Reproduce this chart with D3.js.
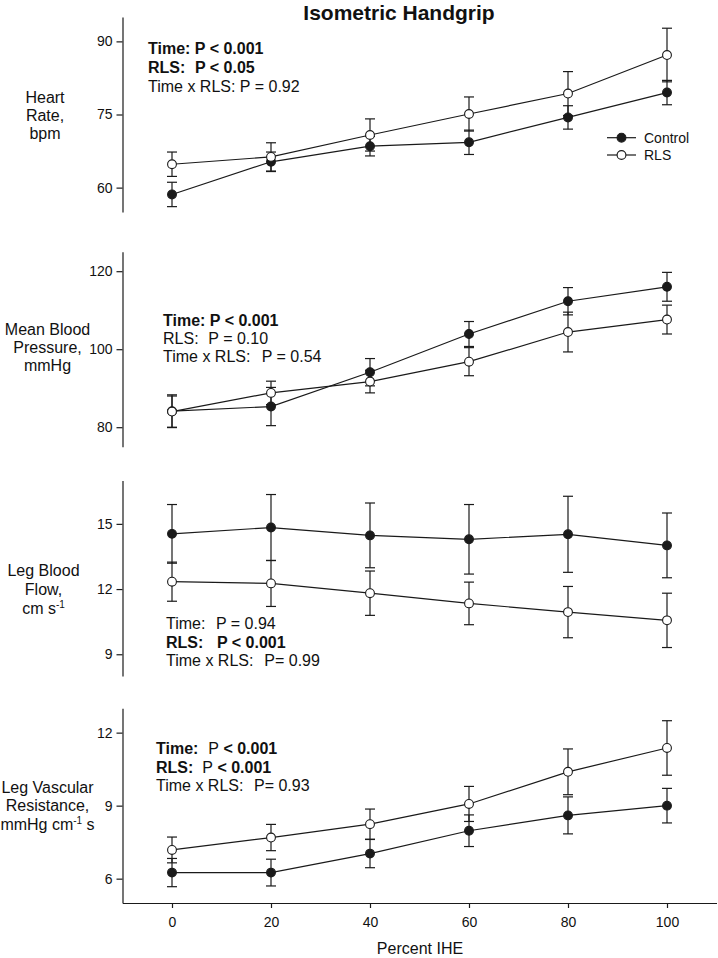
<!DOCTYPE html>
<html>
<head>
<meta charset="utf-8">
<script src="https://cdn.jsdelivr.net/npm/d3@7"></script>
<style>
  html, body { margin: 0; padding: 0; background: #fff; }
  svg { display: block; }
  text { font-family: "Liberation Sans", Arial, sans-serif; fill: #111; }
</style>
</head>
<body>
<svg id="chart" width="718" height="958"></svg>
<script>
// ---------- data ----------
const percentIHE = [0, 20, 40, 60, 80, 100];
const xTicks = [0, 20, 40, 60, 80, 100];

const hrControl   = [58.6, 65.3, 68.5, 69.3, 74.4, 79.5];
const hrControlSE = [2.5, 2.0, 2.0, 2.5, 2.4, 2.5];
const hrRLS       = [64.8, 66.3, 70.8, 75.1, 79.3, 87.2];
const hrRLSSE     = [2.5, 2.9, 3.3, 3.5, 4.5, 5.5];
const hrTicks     = [60, 75, 90];

const mbpControl   = [84.1, 85.3, 94.1, 103.9, 112.3, 116.0];
const mbpControlSE = [4.2, 4.9, 3.5, 3.2, 3.5, 3.7];
const mbpRLS       = [84.0, 88.8, 91.7, 96.8, 104.4, 107.6];
const mbpRLSSE     = [4.0, 3.0, 2.9, 3.6, 5.1, 3.7];
const mbpTicks     = [80, 100, 120];

const lbfControl   = [14.54, 14.83, 14.47, 14.29, 14.52, 14.01];
const lbfControlSE = [1.35, 1.52, 1.49, 1.60, 1.75, 1.49];
const lbfRLS       = [12.34, 12.26, 11.81, 11.34, 10.94, 10.56];
const lbfRLSSE     = [0.90, 1.06, 1.02, 0.98, 1.18, 1.25];
const lbfTicks     = [9, 12, 15];

const lvrControl   = [6.25, 6.25, 7.03, 7.97, 8.60, 9.00];
const lvrControlSE = [0.58, 0.55, 0.58, 0.65, 0.76, 0.71];
const lvrRLS       = [7.18, 7.69, 8.24, 9.07, 10.39, 11.37];
const lvrRLSSE     = [0.53, 0.54, 0.62, 0.72, 0.94, 1.12];
const lvrTicks     = [6, 9, 12];

const seriesNames = ["Control", "RLS"];
const titleText = "Isometric Handgrip";
const xTitle = "Percent IHE";

// ---------- layout ----------
const svg = d3.select("#chart");
const ink = "#1a1a1a";
const font = '"Liberation Sans", Arial, sans-serif';
const x = d3.scaleLinear().domain([-10, 110]).range([122.5, 716.5]);
const axisX = 122.5;

const panels = [
  { domain: [55, 95], range: [212, 17], ticks: hrTicks,
    ctrl: hrControl, ctrlSE: hrControlSE, rls: hrRLS, rlsSE: hrRLSSE,
    label: [[{t: "Heart"}], [{t: "Rate,"}], [{t: "bpm"}]], labelX: 45, labelY: [102.5, 120.5, 138.5],
    ann: [
      [{t: "Time: P < 0.001", b: true}],
      [{t: "RLS:", b: true}, {t: "P < 0.05", b: true, x: 195}],
      [{t: "Time x RLS: P = 0.92"}]
    ], annX: 148, annY: [54.3, 73, 91.5] },
  { domain: [75, 125], range: [446.7, 251.7], ticks: mbpTicks,
    ctrl: mbpControl, ctrlSE: mbpControlSE, rls: mbpRLS, rlsSE: mbpRLSSE,
    label: [[{t: "Mean Blood"}], [{t: "Pressure,"}], [{t: "mmHg"}]], labelX: 47.5, labelY: [335, 353, 371],
    ann: [
      [{t: "Time: P < 0.001", b: true}],
      [{t: "RLS:"}, {t: "P = 0.10", x: 208.3}],
      [{t: "Time x RLS:"}, {t: "P = 0.54", x: 261.7}]
    ], annX: 163, annY: [326, 344, 362] },
  { domain: [8, 17], range: [676, 480.4], ticks: lbfTicks,
    ctrl: lbfControl, ctrlSE: lbfControlSE, rls: lbfRLS, rlsSE: lbfRLSSE,
    label: [[{t: "Leg Blood"}], [{t: "Flow,"}], [{t: "cm s"}, {t: "-1", sup: true}]], labelX: 43.5, labelY: [576, 595, 614],
    ann: [
      [{t: "Time:"}, {t: "P = 0.94", x: 216}],
      [{t: "RLS:", b: true}, {t: "P < 0.001", b: true, x: 217}],
      [{t: "Time x RLS:"}, {t: "P= 0.99", x: 264.3}]
    ], annX: 166, annY: [629, 647.5, 666] },
  { domain: [5, 13], range: [903, 708.3], ticks: lvrTicks,
    ctrl: lvrControl, ctrlSE: lvrControlSE, rls: lvrRLS, rlsSE: lvrRLSSE,
    label: [[{t: "Leg Vascular"}], [{t: "Resistance,"}], [{t: "mmHg cm"}, {t: "-1", sup: true}, {t: " s"}]], labelX: 47.5, labelY: [792.7, 811.2, 829.5],
    ann: [
      [{t: "Time:", b: true}, {t: "P", x: 208.3}, {t: " < 0.001", b: true}],
      [{t: "RLS:", b: true}, {t: "P", x: 202.3}, {t: " < 0.001", b: true}],
      [{t: "Time x RLS:"}, {t: "P= 0.93", x: 254}]
    ], annX: 156, annY: [754.3, 772.7, 791] }
];

function writeLine(sel, parts, x0, y0, fs, anchor) {
  const t = sel.append("text").attr("x", x0).attr("y", y0)
    .attr("font-size", fs).attr("text-anchor", anchor || "start")
    .style("white-space", "pre").attr("fill", ink);
  parts.forEach((p, i) => {
    const ts = t.append("tspan").text(p.t);
    if (p.b) ts.attr("font-weight", "bold");
    if (p.x !== undefined) ts.attr("x", p.x);
    if (p.sup) ts.attr("font-size", 10).attr("dy", -6);
    else if (i > 0 && parts[i - 1].sup) ts.attr("dy", 6);
  });
  return t;
}

// title
svg.append("text").attr("x", 399).attr("y", 19.5).attr("text-anchor", "middle")
  .attr("font-size", 21).attr("font-weight", "bold").attr("fill", ink).text(titleText);

panels.forEach((p) => {
  const y = d3.scaleLinear().domain(p.domain).range(p.range);
  const g = svg.append("g");

  // y axis
  const ax = g.append("g").attr("transform", `translate(${axisX},0)`)
    .call(d3.axisLeft(y).tickValues(p.ticks).tickSize(6).tickPadding(4).tickSizeOuter(0));
  ax.select(".domain").attr("stroke", ink).attr("stroke-width", 1.2);
  ax.selectAll(".tick line").attr("stroke", ink).attr("stroke-width", 1.2);
  ax.selectAll(".tick text").attr("font-size", 14).attr("font-family", font).attr("fill", ink);

  // y label
  p.label.forEach((line, i) => writeLine(g, line, p.labelX, p.labelY[i], 16, "middle"));

  // annotations
  p.ann.forEach((line, i) => writeLine(g, line, p.annX, p.annY[i], 16, "start"));

  const groups = [
    { vals: p.ctrl, se: p.ctrlSE, fill: ink },
    { vals: p.rls, se: p.rlsSE, fill: "#fff" }
  ];
  const line = d3.line().x((d, i) => x(percentIHE[i])).y(d => y(d));

  // error bars
  groups.forEach(s => {
    const eb = g.append("g").attr("stroke", ink).attr("stroke-width", 1.2);
    s.vals.forEach((v, i) => {
      const cx = x(percentIHE[i]);
      const hi = y(v + s.se[i]), lo = y(v - s.se[i]);
      eb.append("line").attr("x1", cx).attr("x2", cx).attr("y1", hi).attr("y2", lo);
      eb.append("line").attr("x1", cx - 5).attr("x2", cx + 5).attr("y1", hi).attr("y2", hi);
      eb.append("line").attr("x1", cx - 5).attr("x2", cx + 5).attr("y1", lo).attr("y2", lo);
    });
  });
  // lines + markers
  groups.forEach(s => {
    g.append("path").datum(s.vals).attr("d", line).attr("fill", "none")
      .attr("stroke", ink).attr("stroke-width", 1.2);
  });
  groups.forEach(s => {
    g.append("g").selectAll("circle").data(s.vals).join("circle")
      .attr("cx", (d, i) => x(percentIHE[i])).attr("cy", d => y(d)).attr("r", 4.4)
      .attr("fill", s.fill).attr("stroke", ink).attr("stroke-width", 1.1);
  });
});

// x axis (bottom)
const xa = svg.append("g").attr("transform", "translate(0,903)")
  .call(d3.axisBottom(x).tickValues(xTicks).tickSize(5).tickPadding(9).tickSizeOuter(0));
xa.select(".domain").attr("stroke", ink).attr("stroke-width", 1.2);
xa.selectAll(".tick line").attr("stroke", ink).attr("stroke-width", 1.2);
xa.selectAll(".tick text").attr("font-size", 14).attr("font-family", font).attr("fill", ink);

svg.append("text").attr("x", 420).attr("y", 954).attr("text-anchor", "middle")
  .attr("font-size", 16).attr("fill", ink).text(xTitle);

// legend
const leg = svg.append("g");
[{ name: seriesNames[0], fill: ink, y: 137.7 }, { name: seriesNames[1], fill: "#fff", y: 155 }].forEach(l => {
  leg.append("line").attr("x1", 607).attr("x2", 636).attr("y1", l.y).attr("y2", l.y)
    .attr("stroke", ink).attr("stroke-width", 1.2);
  leg.append("circle").attr("cx", 621.5).attr("cy", l.y).attr("r", 4.4)
    .attr("fill", l.fill).attr("stroke", ink).attr("stroke-width", 1.1);
  leg.append("text").attr("x", 644).attr("y", l.y + 5).attr("font-size", 14)
    .attr("fill", ink).text(l.name);
});
</script>
</body>
</html>
